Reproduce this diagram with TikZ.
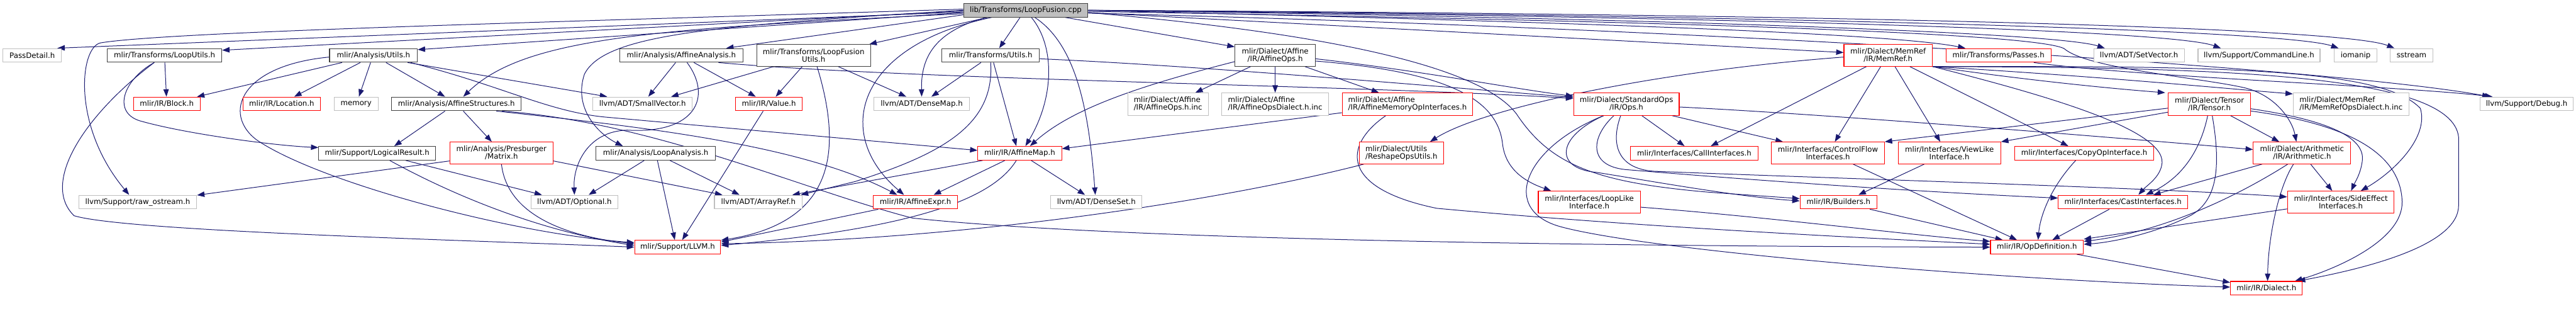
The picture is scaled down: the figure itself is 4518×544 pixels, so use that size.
\documentclass[tikz,border=0pt]{standalone}
\usepackage{fontspec}
\setmainfont{DejaVu Sans}
\usetikzlibrary{arrows.meta,backgrounds}
\definecolor{edgec}{HTML}{191970}
\definecolor{gborder}{HTML}{BFBFBF}
\definecolor{rborder}{HTML}{FF0000}
\definecolor{kborder}{HTML}{404040}
\definecolor{rootfill}{HTML}{BFBFBF}
\tikzset{
 nbox/.style={rectangle, inner sep=0pt, minimum height=24pt, align=center, fill=white, line width=1.2pt, font=\fontsize{13}{13.4}\selectfont},
 gbox/.style={nbox, draw=gborder},
 kbox/.style={nbox, draw=kborder},
 rbox/.style={nbox, draw=rborder},
 dep/.style={draw=edgec, line width=1.1pt, -{Triangle[length=13pt,width=9.5pt]}}
}
\begin{document}
\begin{tikzpicture}[x=1pt,y=-1pt]
\useasboundingbox (0,0) rectangle (4518,544);
% row 1
\node[kbox, fill=rootfill, minimum width=218pt] (root) at (1799,18) {lib/Transforms/LoopFusion.cpp};
% row 2
\node[gbox, minimum width=103pt] (passdetail) at (56.5,97) {PassDetail.h};
\node[kbox, minimum width=201pt] (looputils) at (288.5,97) {mlir/Transforms/LoopUtils.h};
\node[kbox, minimum width=154pt] (autils) at (655,97) {mlir/Analysis/Utils.h};
\node[kbox, minimum width=216pt] (affanal) at (1195,97) {mlir/Analysis/AffineAnalysis.h};
\node[kbox, minimum width=200pt, minimum height=38pt] (lfutils) at (1427,97) {mlir/Transforms/LoopFusion\\Utils.h};
\node[kbox, minimum width=171pt] (tutils) at (1737.5,97) {mlir/Transforms/Utils.h};
\node[kbox, minimum width=141pt, minimum height=38pt] (affops) at (2236.5,97) {mlir/Dialect/Affine\\/IR/AffineOps.h};
\node[rbox, minimum width=155pt, minimum height=38pt] (memref) at (3311.5,97) {mlir/Dialect/MemRef\\/IR/MemRef.h};
\node[rbox, minimum width=184pt] (passes) at (3505,97) {mlir/Transforms/Passes.h};
\node[gbox, minimum width=159pt] (setvector) at (3751.5,97) {llvm/ADT/SetVector.h};
\node[gbox, minimum width=214pt] (cmdline) at (3962,97) {llvm/Support/CommandLine.h};
\node[gbox, minimum width=75pt] (iomanip) at (4131.5,97) {iomanip};
\node[gbox, minimum width=75pt] (sstream) at (4229.5,97) {sstream};
% row 3
\node[rbox, minimum width=117pt] (block) at (292.5,182) {mlir/IR/Block.h};
\node[rbox, minimum width=136pt] (location) at (494,182) {mlir/IR/Location.h};
\node[gbox, minimum width=77pt] (memory) at (624.5,182) {memory};
\node[kbox, minimum width=227pt] (affstruct) at (800.5,182) {mlir/Analysis/AffineStructures.h};
\node[gbox, minimum width=174pt] (smallvec) at (1127,182) {llvm/ADT/SmallVector.h};
\node[rbox, minimum width=117pt] (value) at (1348.5,182) {mlir/IR/Value.h};
\node[gbox, minimum width=167pt] (densemap) at (1616.5,182) {llvm/ADT/DenseMap.h};
\node[gbox, minimum width=141pt, minimum height=39pt, align=left] (affopsinc) at (2048.5,182.5) {mlir/Dialect/Affine\\/IR/AffineOps.h.inc};
\node[gbox, minimum width=187pt, minimum height=39pt, align=left] (affdialinc) at (2236.5,182.5) {mlir/Dialect/Affine\\/IR/AffineOpsDialect.h.inc};
\node[rbox, minimum width=229pt, minimum height=39pt, align=left] (affmem) at (2468.5,182.5) {mlir/Dialect/Affine\\/IR/AffineMemoryOpInterfaces.h};
\node[rbox, minimum width=185pt, minimum height=39pt] (stdops) at (2852.5,182.5) {mlir/Dialect/StandardOps\\/IR/Ops.h};
\node[rbox, minimum width=144pt, minimum height=39pt] (tensor) at (3875,182.5) {mlir/Dialect/Tensor\\/IR/Tensor.h};
\node[gbox, minimum width=203pt, minimum height=39pt, align=left] (memrefinc) at (4123.5,182.5) {mlir/Dialect/MemRef\\/IR/MemRefOpsDialect.h.inc};
\node[gbox, minimum width=163pt] (debug) at (4431.5,182) {llvm/Support/Debug.h};
% row 4
\node[kbox, minimum width=205pt] (logres) at (661.5,268.5) {mlir/Support/LogicalResult.h};
\node[rbox, minimum width=181pt, minimum height=38pt] (matrix) at (879.5,268) {mlir/Analysis/Presburger\\/Matrix.h};
\node[kbox, minimum width=210pt] (loopanal) at (1150,268.5) {mlir/Analysis/LoopAnalysis.h};
\node[rbox, minimum width=147pt] (affmap) at (1788.5,268.5) {mlir/IR/AffineMap.h};
\node[rbox, minimum width=148pt, minimum height=38pt, align=left] (reshape) at (2458,268) {mlir/Dialect/Utils\\/ReshapeOpsUtils.h};
\node[rbox, minimum width=223pt] (callif) at (2971.5,268.5) {mlir/Interfaces/CallInterfaces.h};
\node[rbox, minimum width=198pt, minimum height=38pt] (ctrlflow) at (3206,268) {mlir/Interfaces/ControlFlow\\Interfaces.h};
\node[rbox, minimum width=180pt, minimum height=38pt] (viewlike) at (3419,268) {mlir/Interfaces/ViewLike\\Interface.h};
\node[rbox, minimum width=243pt] (copyop) at (3655.5,268.5) {mlir/Interfaces/CopyOpInterface.h};
\node[rbox, minimum width=171pt, minimum height=38pt] (arith) at (4037.5,268) {mlir/Dialect/Arithmetic\\/IR/Arithmetic.h};
% row 5
\node[gbox, minimum width=207pt] (rawos) at (241.5,354) {llvm/Support/raw\_ostream.h};
\node[gbox, minimum width=153pt] (optional) at (1007.5,354) {llvm/ADT/Optional.h};
\node[gbox, minimum width=154pt] (arrayref) at (1330,354) {llvm/ADT/ArrayRef.h};
\node[rbox, minimum width=147pt] (affexpr) at (1605.5,354) {mlir/IR/AffineExpr.h};
\node[gbox, minimum width=160pt] (denseset) at (1923,354) {llvm/ADT/DenseSet.h};
\node[rbox, minimum width=179pt, minimum height=38pt] (looplike) at (2787.5,354) {mlir/Interfaces/LoopLike\\Interface.h};
\node[rbox, minimum width=135pt] (builders) at (3224.5,354) {mlir/IR/Builders.h};
\node[rbox, minimum width=227pt] (castif) at (3723.5,354) {mlir/Interfaces/CastInterfaces.h};
\node[rbox, minimum width=187pt, minimum height=38pt] (sideeff) at (4105.5,354) {mlir/Interfaces/SideEffect\\Interfaces.h};
% rows 6-7
\node[rbox, minimum width=151pt] (llvmh) at (1188.5,433) {mlir/Support/LLVM.h};
\node[rbox, minimum width=163pt] (opdef) at (3572.5,433) {mlir/IR/OpDefinition.h};
\node[rbox, minimum width=126pt] (dialect) at (3975,505) {mlir/IR/Dialect.h};

\begin{pgfonlayer}{background}
\fill[white] (0,0) rectangle (4518,544);
% root
\draw[dep] ([yshift=-3]root.west) -- ([xshift=-8]passdetail.north east);
\draw[dep] ([yshift=-1]root.west) -- ([yshift=9]looputils.east);
\draw[dep] ([yshift=-4]root.west) -- ([yshift=10]autils.east);
\draw[dep] ([yshift=-8]root.west) -- ([xshift=-30]affanal.north east);
\draw[dep] ([xshift=43]root.south west) -- ([xshift=-3]lfutils.north east);
\draw[dep] ([xshift=-10]root.south) -- ([xshift=15]tutils.north);
\draw[dep] ([xshift=10]root.south) .. controls (1850,80) and (1850,170) .. ([xshift=10]affmap.north);
\draw[dep] ([xshift=16]root.south) .. controls (1890,80) and (1910,200) .. ([xshift=-2]denseset.north);
\draw[dep] ([xshift=-70]root.south) .. controls (1640,55) and (1615,100) .. (densemap.north);
\draw[dep] ([xshift=-60]root.south) .. controls (1500,80) and (1460,235) .. ([xshift=-20]affexpr.north);
\draw[dep] (root.west) .. controls (1250,45) and (1060,60) .. (1025,130) .. controls (1005,190) and (1050,235) .. ([xshift=48]loopanal.north west);
\draw[dep] ([yshift=-6]root.west) .. controls (1150,50) and (920,65) .. ([xshift=12]affstruct.north);
\draw[dep] ([yshift=2]root.west) .. controls (1000,38) and (300,55) .. (177,75) .. controls (140,81) and (125,220) .. ([xshift=-15]rawos.north);
\draw[dep] ([xshift=-40]root.south east) -- ([yshift=15]affops.west);
\draw[dep] ([yshift=-4]root.east) -- ([yshift=5]memref.west);
\draw[dep] (root.east) .. controls (2600,35) and (3300,55) .. ([xshift=-58]passes.north);
\draw[dep] (root.east) .. controls (2800,30) and (3600,55) .. ([xshift=-60]setvector.north);
\draw[dep] (root.east) .. controls (2900,28) and (3800,50) .. ([xshift=-67]cmdline.north);
\draw[dep] (root.east) .. controls (3000,26) and (4000,50) .. ([xshift=-30]iomanip.north);
\draw[dep] (root.east) .. controls (3100,24) and (4100,45) .. ([xshift=-30]sstream.north);
\draw[dep] ([yshift=-5]root.east) .. controls (3000,50) and (4100,120) .. ([xshift=-65]debug.north);
\draw[dep] ([yshift=-2]root.east) .. controls (2800,35) and (3560,55) .. (3620,85) .. controls (3660,120) and (3850,135) .. (3933,153) .. controls (3990,165) and (4020,210) .. ([xshift=-10]arith.north);
\draw[dep] ([yshift=-4]root.east) .. controls (2350,60) and (2600,120) .. (2660,200) .. controls (2720,290) and (2800,320) .. (3000,337) -- ([yshift=6]builders.west);
% LoopUtils
\draw[dep] (looputils) -- (block);
\draw[dep] ([xshift=-18]looputils.south) .. controls (215,140) and (195,200) .. (250,213) .. controls (330,235) and (480,255) .. ([yshift=10]logres.west);
\draw[dep] ([xshift=-18]looputils.south) .. controls (150,200) and (70,320) .. (130,378) .. controls (220,405) and (800,420) .. (llvmh.west);
% Analysis/Utils
\draw[dep] ([xshift=-55]autils.south) -- ([xshift=-6]block.north east);
\draw[dep] ([xshift=-23]autils.south) -- ([xshift=22]location.north);
\draw[dep] ([xshift=-5]autils.south) -- ([xshift=5]memory.north);
\draw[dep] ([xshift=22]autils.south) -- ([xshift=-20]affstruct.north);
\draw[dep] ([xshift=60]autils.south) -- ([xshift=-62]smallvec.north);
\draw[dep] ([xshift=65]autils.south) .. controls (880,150) and (960,195) .. (1060,205) -- ([yshift=5]affmap.west);
\draw[dep] ([yshift=-3]autils.west) .. controls (420,115) and (390,200) .. (450,245) .. controls (560,320) and (900,410) .. ([yshift=8]llvmh.west);
% AffineAnalysis
\draw[dep] ([xshift=-10]affanal.south) -- ([xshift=10]smallvec.north);
\draw[dep] ([xshift=22]affanal.south) -- ([xshift=-23]value.north);
\draw[dep] ([xshift=10]affanal.south) .. controls (1250,170) and (1220,235) .. (1100,228) .. controls (1030,230) and (1005,290) .. (optional.north);
\draw[dep] ([xshift=65]affanal.south) .. controls (1600,140) and (2400,150) .. ([yshift=10]stdops.west);
% LoopFusionUtils
\draw[dep] ([xshift=-70]lfutils.south) -- ([xshift=50]smallvec.north);
\draw[dep] ([xshift=-20]lfutils.south) -- ([xshift=12]value.north);
\draw[dep] ([xshift=6]lfutils.south) .. controls (1480,270) and (1460,390) .. ([yshift=12]llvmh.east);
\draw[dep] ([xshift=43]lfutils.south) -- ([xshift=-27]densemap.north);
% Transforms/Utils
\draw[dep] ([xshift=-17]tutils.south) -- ([xshift=17]densemap.north);
\draw[dep] ([xshift=5]tutils.south) -- ([xshift=-6]affmap.north);
\draw[dep] (tutils.south) .. controls (1745,220) and (1650,270) .. (1500,318) -- ([xshift=-3]arrayref.north east);
\draw[dep] ([yshift=-6]tutils.east) .. controls (2100,115) and (2500,150) .. ([yshift=12]stdops.west);
% AffineOps
\draw[dep] ([xshift=-43]affops.south) -- ([xshift=48]affopsinc.north);
\draw[dep] (affops) -- (affdialinc);
\draw[dep] ([xshift=52]affops.south) -- ([xshift=-50]affmem.north);
\draw[dep] ([yshift=-11]affops.west) .. controls (2000,150) and (1880,190) .. ([xshift=18]affmap.north);
\draw[dep] ([yshift=-6]affops.east) .. controls (2500,125) and (2650,155) .. ([yshift=14]stdops.west);
\draw[dep] ([yshift=-10]affops.east) .. controls (2530,125) and (2625,170) .. (2635,250) .. controls (2640,300) and (2680,320) .. ([xshift=-67]looplike.north);
% MemRef
\draw[dep] ([yshift=-3]memref.west) .. controls (2900,125) and (2600,190) .. ([xshift=50]reshape.north);
\draw[dep] ([xshift=-38]memref.south) -- ([xshift=29]callif.north);
\draw[dep] ([xshift=-13]memref.south) -- ([xshift=12]ctrlflow.north);
\draw[dep] ([xshift=12]memref.south) -- ([xshift=-16]viewlike.north);
\draw[dep] ([xshift=38]memref.south) -- ([xshift=-28]copyop.north);
\draw[dep] (memref.south east) .. controls (3550,140) and (3700,155) .. ([xshift=-5]tensor.north west);
\draw[dep] (memref.south east) .. controls (3580,165) and (3795,225) .. (3792,285) .. controls (3790,310) and (3765,325) .. ([xshift=27]castif.north);
\draw[dep] (memref.south east) .. controls (3700,135) and (3900,155) .. ([yshift=18]memrefinc.west);
\draw[dep] (memref.south east) .. controls (3900,115) and (4180,120) .. (4245,190) .. controls (4260,240) and (4200,300) .. ([xshift=35]sideeff.north);
\draw[dep] (memref.south east) .. controls (3900,118) and (4300,130) .. (4312,240) -- (4312,360) .. controls (4312,430) and (4150,470) .. ([xshift=55]dialect.north);
% StandardOps
\draw[dep] ([xshift=27]stdops.south) -- ([xshift=-17]callif.north);
\draw[dep] ([yshift=-5]stdops.east) .. controls (3200,200) and (3700,240) .. ([yshift=6]arith.west);
\draw[dep] ([xshift=80]stdops.south) -- ([xshift=-79]ctrlflow.north);
\draw[dep] ([xshift=-40]stdops.south) .. controls (2730,240) and (2725,295) .. (2800,302) .. controls (2900,318) and (3050,345) .. ([yshift=2]builders.west);
\draw[dep] ([xshift=-22]stdops.south) .. controls (2790,240) and (2785,290) .. (2850,297) .. controls (3100,318) and (3400,338) .. ([yshift=7]castif.west);
\draw[dep] ([xshift=-10]stdops.south) .. controls (2825,250) and (2835,295) .. (2900,300) .. controls (3200,312) and (3800,330) .. ([yshift=9]sideeff.west);
\draw[dep] ([xshift=-40]stdops.south) .. controls (2670,260) and (2630,370) .. (2740,398) .. controls (2900,440) and (3500,490) .. ([yshift=2]dialect.west);
% Tensor
\draw[dep] ([yshift=-14]tensor.west) -- (viewlike.north east);
\draw[dep] ([yshift=-7]tensor.west) -- (ctrlflow.north east);
\draw[dep] ([xshift=-3]tensor.south) .. controls (3860,260) and (3830,310) .. ([xshift=40]castif.north);
\draw[dep] ([xshift=5]tensor.south) .. controls (3895,290) and (3890,350) .. (3843,377) .. controls (3780,410) and (3700,425) .. ([yshift=5]opdef.east);
\draw[dep] ([xshift=37]tensor.south) -- ([xshift=-40]arith.north);
\draw[dep] ([yshift=-8]tensor.east) .. controls (4080,210) and (4150,240) .. (4143,283) .. controls (4140,305) and (4130,320) .. ([xshift=18]sideeff.north);
\draw[dep] ([yshift=-12]tensor.east) .. controls (4100,215) and (4210,260) .. (4213,353) .. controls (4215,420) and (4100,470) .. ([xshift=50]dialect.north);
% Arithmetic
\draw[dep] ([xshift=-70]arith.south) -- ([xshift=53]castif.north);
\draw[dep] ([xshift=-25]arith.south) .. controls (3930,340) and (3800,405) .. ([yshift=10]opdef.east);
\draw[dep] ([xshift=-15]arith.south) .. controls (3995,330) and (3978,420) .. ([xshift=2]dialect.north);
\draw[dep] ([xshift=15]arith.south) -- ([xshift=-15]sideeff.north);
% AffineStructures
\draw[dep] ([xshift=-20]affstruct.south) -- ([xshift=30]logres.north);
\draw[dep] ([xshift=12]affstruct.south) -- ([xshift=-17]matrix.north);
\draw[dep] ([xshift=70]affstruct.south) .. controls (1100,220) and (1400,250) .. ([xshift=-32]affexpr.north);
\draw[dep] ([xshift=80]affstruct.south) .. controls (1150,215) and (1400,330) .. (1600,382) .. controls (2000,425) and (3000,432) .. (opdef.west);
% Matrix
\draw[dep] ([yshift=-14]matrix.west) -- ([yshift=12]rawos.east);
\draw[dep] ([yshift=-14]matrix.east) -- ([xshift=-63]arrayref.north);
\draw[dep] (matrix.south) .. controls (890,380) and (1000,415) .. ([yshift=6]llvmh.west);
% LogicalResult
\draw[dep] ([xshift=50]logres.south) -- ([xshift=-57]optional.north);
\draw[dep] ([xshift=22]logres.south) .. controls (800,345) and (950,405) .. ([yshift=3]llvmh.west);
% LoopAnalysis
\draw[dep] ([xshift=-20]loopanal.south) -- ([xshift=25]optional.north);
\draw[dep] ([xshift=25]loopanal.south) -- ([xshift=-33]arrayref.north);
\draw[dep] ([xshift=3]loopanal.south) -- ([xshift=-5]llvmh.north);
% Value
\draw[dep] ([xshift=-10]value.south) -- ([xshift=8]llvmh.north);
% AffineMap
\draw[dep] ([xshift=-26]affmap.south) -- ([xshift=32]affexpr.north);
\draw[dep] ([xshift=20]affmap.south) -- ([xshift=-20]denseset.north);
\draw[dep] ([xshift=-6]affmap.south) .. controls (1740,350) and (1600,400) .. ([yshift=3]llvmh.east);
\draw[dep] ([xshift=-65]affmap.south) -- ([xshift=-18]arrayref.north east);
% AffineExpr
\draw[dep] ([xshift=-65]affexpr.south) -- ([yshift=9]llvmh.east);
% AffineMemoryOpInterfaces
\draw[dep] ([yshift=-15]affmem.west) -- ([yshift=8]affmap.east);
\draw[dep] ([xshift=-38]affmem.south) .. controls (2355,255) and (2350,330) .. (2520,365) .. controls (2900,400) and (3300,418) .. ([yshift=5]opdef.west);
% ReshapeOpsUtils
\draw[dep] ([xshift=-66]reshape.south) .. controls (2150,350) and (1700,420) .. ([yshift=6]llvmh.east);
% interfaces
\draw[dep] ([xshift=44]ctrlflow.south) -- ([xshift=-35]opdef.north);
\draw[dep] ([xshift=-44]viewlike.south) -- ([xshift=35]builders.north);
\draw[dep] ([xshift=-15]copyop.south) .. controls (3595,330) and (3578,380) .. ([xshift=2]opdef.north);
\draw[dep] ([xshift=-24]castif.south) -- ([xshift=27]opdef.north);
\draw[dep] ([yshift=-12]sideeff.west) -- ([yshift=14]opdef.east);
\draw[dep] ([xshift=55]builders.south) -- ([xshift=-60]opdef.north);
\draw[dep] ([yshift=-9]looplike.east) .. controls (3100,380) and (3350,412) .. ([yshift=10]opdef.west);
\draw[dep] ([xshift=70]opdef.south) -- ([yshift=10]dialect.west);
% Passes
\draw[dep] ([xshift=62]passes.south) .. controls (3750,135) and (4200,150) .. ([xshift=-60]debug.north);
\end{pgfonlayer}
\end{tikzpicture}
\end{document}
